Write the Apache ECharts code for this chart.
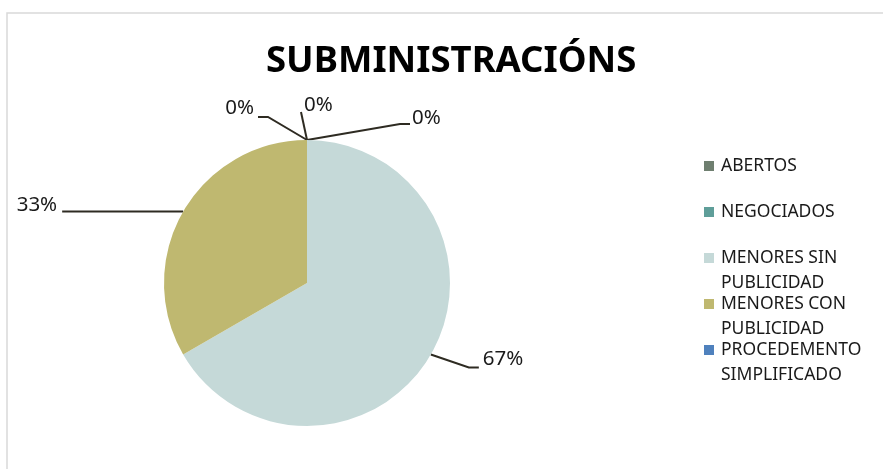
<!DOCTYPE html>
<html>
<head>
<meta charset="utf-8">
<script src="https://cdn.jsdelivr.net/npm/echarts@6/dist/echarts.min.js"></script>
<style>
  html, body { margin: 0; padding: 0; background: #fff; }
  #chart { width: 883px; height: 469px; }
</style>
</head>
<body>
<div id="chart"></div>
<script>
// categorias e valores
const categories = ['ABERTOS', 'NEGOCIADOS', 'MENORES SIN PUBLICIDAD', 'MENORES CON PUBLICIDAD', 'PROCEDEMENTO SIMPLIFICADO'];
const values = [0, 0, 2, 1, 0];
const colors = ['#6f7f70', '#5f9e99', '#c5d9d8', '#bfb870', '#4f81bd'];
// texto da lenda (con saltos de liña)
const legendLabels = ['ABERTOS', 'NEGOCIADOS', 'MENORES SIN\nPUBLICIDAD', 'MENORES CON\nPUBLICIDAD', 'PROCEDEMENTO\nSIMPLIFICADO'];

const FONT = 'Noto Sans';
const LINE = '#2e2b22';

// desprazamentos das etiquetas respecto ao bordo do sector (estilo Excel)
const labelOffsets = [
  { pts: [[-39, -23], [-49, -23]], lx: -53, ly: -32, align: 'right' },
  { pts: [[-6, -28]], lx: -3, ly: -35, align: 'left' },
  { pts: [[38, 13], [48, 13]], lx: 52, ly: 5, align: 'left' },
  { pts: [[-121, 0]], lx: -126, ly: -6, align: 'right' },
  { pts: [[93, -16], [103, -16]], lx: 105, ly: -22, align: 'left' },
];

const chart = echarts.init(document.getElementById('chart'));

// unha lenda por elemento, para manter o espazado de Excel
const legendTops = [166, 212, 258, 304, 350];
const legends = categories.map((name, i) => {
  const multi = legendLabels[i].indexOf('\n') >= 0;
  return {
    orient: 'vertical',
    left: 704,
    top: legendTops[i] - (multi ? 37.5 : 12.5),
    padding: 0,
    itemWidth: 10,
    itemHeight: 10,
    itemGap: 0,
    icon: 'rect',
    selectedMode: false,
    data: [name],
    formatter: () => (multi ? '\n' : '') + legendLabels[i],
    textStyle: { fontFamily: FONT, fontSize: 17.5, color: '#1a1a1a', lineHeight: 25, padding: [0, 0, 0, 2] },
  };
});

chart.setOption({
  animation: false,
  color: colors,
  title: {
    text: 'SUBMINISTRACIÓNS',
    left: 261,
    top: 38,
    textStyle: { fontFamily: FONT, fontSize: 36.5, fontWeight: 'bold', color: '#000' },
  },
  legend: legends,
  graphic: [{
    type: 'rect',
    shape: { x: 7, y: 13, width: 900, height: 500 },
    style: { fill: 'none', stroke: '#d9d9d9', lineWidth: 1.5 },
    silent: true,
  }],
  series: [{
    type: 'pie',
    center: [307, 283],
    radius: 143,
    startAngle: 90,
    clockwise: true,
    avoidLabelOverlap: false,
    minShowLabelAngle: 0,
    label: {
      show: true,
      position: 'outside',
      fontFamily: FONT,
      fontSize: 20.5,
      color: '#1a1a1a',
      formatter: (p) => Math.round(p.percent) + '%',
    },
    labelLine: { show: true, lineStyle: { color: LINE, width: 2 } },
    labelLayout: (params) => {
      const o = labelOffsets[params.dataIndex];
      const a = params.labelLinePoints[0];
      const pts = [[a[0], a[1]]].concat(o.pts.map((d) => [a[0] + d[0], a[1] + d[1]]));
      return {
        x: a[0] + o.lx,
        y: a[1] + o.ly,
        align: o.align,
        verticalAlign: 'middle',
        labelLinePoints: pts,
      };
    },
    emphasis: { disabled: true },
    data: categories.map((name, i) => ({ name, value: values[i] })),
  }],
});
</script>
</body>
</html>
